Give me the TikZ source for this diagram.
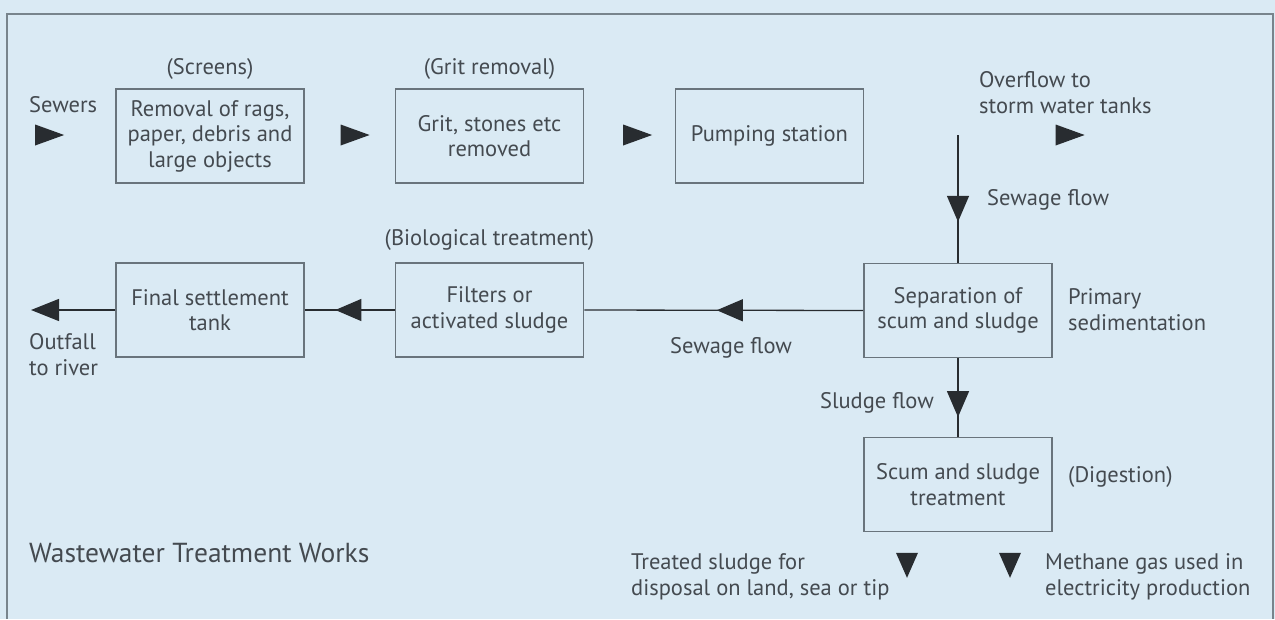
\documentclass[tikz,border=0pt]{standalone}
\usepackage{fontspec}
\setmainfont{PT Sans}
\usepackage{tikz}
\usetikzlibrary{arrows.meta}
\usetikzlibrary{shapes.geometric}
\usetikzlibrary{decorations.markings}

\definecolor{wtwback}{RGB}{218,234,244}
\definecolor{wtwframe}{RGB}{120,132,140}
\definecolor{wtwline}{RGB}{105,116,124}
\definecolor{wtwtext}{RGB}{68,74,80}
\definecolor{wtwhead}{RGB}{40,44,48}

\tikzset{
  stage/.style={draw=wtwline, line width=1.6pt, minimum width=188pt, minimum height=94pt,
    align=center, text=wtwtext, inner sep=0pt, font=\fontsize{22.5}{25.5}\selectfont},
  lbl/.style={text=wtwtext, align=left, inner sep=0pt, font=\fontsize{22.5}{26}\selectfont},
  flow/.style={draw=wtwhead, line width=1.3pt},
  tri/.style={isosceles triangle, isosceles triangle stretches, fill=wtwhead, inner sep=0pt,
    minimum height=29pt, minimum width=21pt},
  tridown/.style={tri, shape border rotate=-90, minimum height=25pt, minimum width=22pt},
  midhead/.style={postaction={decorate}, decoration={markings,
    mark=at position #1 with {\arrow{Triangle[length=26pt, width=22pt]}}}},
}

\begin{document}
\begin{tikzpicture}[x=1pt, y={(0pt,-1pt)}]
\useasboundingbox (0,0) rectangle (1275,619);
\fill[wtwback] (0,0) rectangle (1275,619);
\draw[wtwframe, line width=1.6pt] (7,619) -- (7,14) -- (1273,14) -- (1273,619);

% top row
\node[stage] (rags) at (210,136) {Removal of rags,\\paper, debris and\\large objects};
\node[stage] (grit) at (489.5,136) {Grit, stones etc\\removed};
\node[stage] (pump) at (769.5,136) {Pumping station};
\node[lbl, anchor=center] (screens) at (210,69) {(Screens)};
\node[lbl, anchor=center] (gritlbl) at (489.5,69) {(Grit removal)};
\node[lbl, anchor=west] (sewers) at (29,105) {Sewers};
\node[tri] (in) at (42.5,135) {};
\node[tri] (ragsout) at (348,135) {};
\node[tri] (gritout) at (630.5,135) {};
\node[lbl, anchor=west] (overflow) at (979,93) {Overflow to\\storm water tanks};
\node[tri] (storm) at (1063,135) {};

% middle row
\node[stage] (sep) at (958,310.5) {Separation of\\scum and sludge};
\node[stage] (filt) at (489.5,310) {Filters or\\activated sludge};
\node[stage] (final) at (210,310) {Final settlement\\tank};
\coordinate (split) at (958,135);
\coordinate (outfall) at (31,310);
\node[lbl, anchor=west] (sewage) at (987,200) {Sewage flow};
\node[lbl, anchor=west] (primary) at (1068,309.5) {Primary\\sedimentation};
\node[lbl, anchor=center] (sewage2) at (731,348) {Sewage flow};
\node[lbl, anchor=center] (biolbl) at (489.5,240) {(Biological treatment)};
\node[lbl, anchor=west] (outlbl) at (29,355) {Outfall\\to river};

\draw[flow, midhead=0.68] (split) -- (sep.north);
\draw[flow, midhead=0.525] (sep.west) -- (filt.east);
\draw[flow, midhead=0.66] (filt.west) -- (final.east);
\draw[flow, -{Triangle[length=28pt, width=22pt]}] (final.west) -- (outfall);

% sludge
\node[stage] (digest) at (958,484.5) {Scum and sludge\\treatment};
\draw[flow, midhead=0.75] (sep.south) -- (digest.north);
\node[lbl, anchor=east] (sludge) at (934,403) {Sludge flow};
\node[lbl, anchor=west] (digestlbl) at (1068,477) {(Digestion)};
\node[tridown] (solids) at (907,560) {};
\node[tridown] (gas) at (1010,560) {};
\node[lbl, anchor=west] (disposal) at (631,577) {Treated sludge for\\disposal on land, sea or tip};
\node[lbl, anchor=west] (methane) at (1045,577) {Methane gas used in\\electricity production};

\node[lbl, anchor=west, font=\fontsize{27.5}{30}\selectfont] (works) at (29,553) {Wastewater Treatment Works};
\end{tikzpicture}
\end{document}
